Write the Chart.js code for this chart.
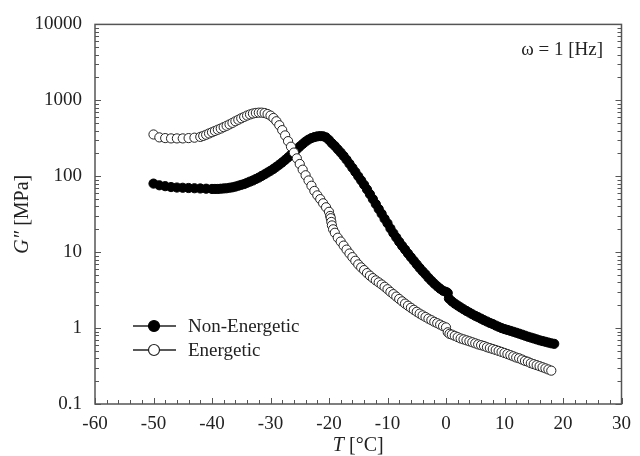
<!DOCTYPE html>
<html>
<head>
<meta charset="utf-8">
<script src="https://cdn.jsdelivr.net/npm/chart.js@4.4.1/dist/chart.umd.min.js"></script>
<style>
html,body{margin:0;padding:0;background:#fff;}
#wrap{width:640px;height:456px;}
</style>
</head>
<body>
<div id="wrap"><canvas id="c" width="640" height="456"></canvas></div>
<script>
// ---- data ----
const seriesNames = ["Non-Energetic", "Energetic"];
const xTickLabels = [-60, -50, -40, -30, -20, -10, 0, 10, 20, 30];
const yTickLabels = [0.1, 1, 10, 100, 1000, 10000];

const T_non = [-50,-49,-48,-47,-46,-45,-44,-43,-42,-41,-40,-39.5,-39,-38.5,-38,-37.5,-37,-36.5,-36,-35.5,-35,-34.5,-34,-33.5,-33,-32.5,-32,-31.5,-31,-30.5,-30,-29.5,-29,-28.5,-28,-27.5,-27,-26.5,-26,-25.5,-25,-24.5,-24,-23.5,-23,-22.5,-22,-21.5,-21,-20.5,-20,-19.5,-19,-18.5,-18,-17.5,-17,-16.5,-16,-15.5,-15,-14.5,-14,-13.5,-13,-12.5,-12,-11.5,-11,-10.5,-10,-9.5,-9,-8.5,-8,-7.5,-7,-6.5,-6,-5.5,-5,-4.5,-4,-3.5,-3,-2.5,-2,-1.5,-1,-0.5,0,0.3,0.5,1,1.5,2,2.5,3,3.5,4,4.5,5,5.5,6,6.5,7,7.5,8,8.5,9,9.5,10,10.5,11,11.5,12,12.5,13,13.5,14,14.5,15,15.5,16,16.5,17,17.5,18,18.5];
const G_non = [80,76,74,72,71,70.5,70,69.5,69,68.5,68,68,68,68.5,69,69.5,70.5,71.5,73,75,77,79,82,85,88,92,96,101,106,112,118,125,133,142,152,164,177,192,208,226,246,266,286,304,318,328,335,338,336,325,300,272,250,226,205,185,165,146,129,114,100,88,77,67,58,50,43,37,32,27.5,24,20.5,17.8,15.6,13.7,12.1,10.8,9.6,8.6,7.7,6.9,6.2,5.6,5.1,4.6,4.2,3.85,3.55,3.3,3.1,3.0,2.9,2.45,2.25,2.1,1.98,1.87,1.77,1.68,1.6,1.52,1.45,1.39,1.33,1.27,1.22,1.17,1.13,1.08,1.04,1.0,0.97,0.945,0.92,0.895,0.87,0.845,0.82,0.795,0.77,0.75,0.73,0.71,0.69,0.675,0.66,0.645,0.63,0.62];

const T_en = [-50,-49,-48,-47,-46,-45,-44,-43,-42,-41.5,-41,-40.5,-40,-39.5,-39,-38.5,-38,-37.5,-37,-36.5,-36,-35.5,-35,-34.5,-34,-33.5,-33,-32.5,-32,-31.5,-31,-30.5,-30,-29.5,-29,-28.5,-28,-27.5,-27,-26.5,-26,-25.5,-25,-24.5,-24,-23.5,-23,-22.5,-22,-21.5,-21,-20.5,-20,-19.8,-19.7,-19.6,-19.5,-19.3,-19,-18.5,-18,-17.5,-17,-16.5,-16,-15.5,-15,-14.5,-14,-13.5,-13,-12.5,-12,-11.5,-11,-10.5,-10,-9.5,-9,-8.5,-8,-7.5,-7,-6.5,-6,-5.5,-5,-4.5,-4,-3.5,-3,-2.5,-2,-1.5,-1,-0.5,0,0.3,0.6,1,1.5,2,2.5,3,3.5,4,4.5,5,5.5,6,6.5,7,7.5,8,8.5,9,9.5,10,10.5,11,11.5,12,12.5,13,13.5,14,14.5,15,15.5,16,16.5,17,17.5,18];
const G_en = [355,325,318,315,315,315,318,322,330,340,352,366,380,395,410,425,443,462,482,505,530,555,580,605,630,652,670,682,688,688,680,660,630,585,530,470,405,345,290,245,205,172,145,122,103,88,75,64,56,50,44,39,34,30,28,25,22.5,20,18,15.5,13.8,12.2,10.8,9.6,8.6,7.7,6.9,6.3,5.8,5.3,4.9,4.55,4.25,4.0,3.75,3.5,3.25,3.0,2.8,2.6,2.42,2.25,2.1,1.97,1.85,1.74,1.64,1.55,1.47,1.4,1.33,1.27,1.21,1.16,1.11,1.06,1.02,0.88,0.84,0.82,0.79,0.76,0.73,0.71,0.69,0.67,0.65,0.63,0.61,0.595,0.58,0.56,0.545,0.53,0.515,0.5,0.485,0.47,0.455,0.44,0.425,0.41,0.4,0.385,0.37,0.36,0.345,0.335,0.325,0.315,0.305,0.295,0.285,0.275];

// ---- chart ----
const FONT = "'Liberation Serif', 'Times New Roman', serif";
const TXT = '#222';
const AX = '#555';

function pts(xs, ys){ return xs.map((x,i)=>({x:x, y:ys[i]})); }

const decor = {
  id: 'decor',
  afterDatasetsDraw(chart){
    const ctx = chart.ctx;
    const a = chart.chartArea;
    const xs = chart.scales.x, ys = chart.scales.y;
    ctx.save();
    // frame
    ctx.strokeStyle = AX; ctx.lineWidth = 1.5;
    ctx.strokeRect(a.left, a.top, a.right - a.left, a.bottom - a.top);
    // x ticks (inward, bottom)
    ctx.lineWidth = 1;
    ctx.beginPath();
    for (let v = -60; v <= 30; v += 2) {
      const px = Math.round(xs.getPixelForValue(v)) + 0.5;
      const len = (v % 10 === 0) ? 6 : 4;
      ctx.moveTo(px, a.bottom); ctx.lineTo(px, a.bottom - len);
    }
    // y ticks (inward, left & right)
    for (let d = -1; d <= 4; d++) {
      for (let m = 1; m <= 9; m++) {
        const v = m * Math.pow(10, d);
        if (v > 10000) break;
        const py = Math.round(ys.getPixelForValue(v)) + 0.5;
        const len = (m === 1) ? 6 : 4;
        ctx.moveTo(a.left, py); ctx.lineTo(a.left + len, py);
        ctx.moveTo(a.right, py); ctx.lineTo(a.right - len, py);
      }
    }
    ctx.stroke();

    // legend
    const ds = chart.data.datasets;
    const rows = [{y: 326, d: ds[0]}, {y: 350, d: ds[1]}];
    rows.forEach(r => {
      ctx.strokeStyle = '#222'; ctx.lineWidth = 1.5;
      ctx.beginPath(); ctx.moveTo(133, r.y); ctx.lineTo(176, r.y); ctx.stroke();
      ctx.beginPath(); ctx.arc(154, r.y, 5.5, 0, Math.PI*2);
      ctx.fillStyle = r.d.backgroundColor; ctx.fill();
      ctx.lineWidth = 1.2; ctx.strokeStyle = r.d.borderColor; ctx.stroke();
      ctx.fillStyle = TXT; ctx.font = '19px ' + FONT;
      ctx.textAlign = 'left'; ctx.textBaseline = 'middle';
      ctx.fillText(r.d.label, 188, r.y + 1);
    });

    // annotation
    ctx.fillStyle = TXT; ctx.font = '19px ' + FONT;
    ctx.textAlign = 'right'; ctx.textBaseline = 'middle';
    ctx.fillText('\u03c9 = 1 [Hz]', 603, 50);

    // x title: italic T + [°C]
    ctx.textBaseline = 'alphabetic'; ctx.textAlign = 'left';
    const s1 = 'T', s2 = ' [\u00b0C]';
    ctx.font = 'italic 20px ' + FONT; const w1 = ctx.measureText(s1).width;
    ctx.font = '20px ' + FONT; const w2 = ctx.measureText(s2).width;
    let x0 = (a.left + a.right) / 2 - (w1 + w2) / 2;
    ctx.font = 'italic 20px ' + FONT; ctx.fillText(s1, x0, 451);
    ctx.font = '20px ' + FONT; ctx.fillText(s2, x0 + w1, 451);

    // y title: italic G'' + [MPa], rotated
    ctx.save();
    ctx.translate(28, (a.top + a.bottom) / 2);
    ctx.rotate(-Math.PI / 2);
    const t1 = 'G\u2033', t2 = ' [MPa]';
    ctx.font = 'italic 20px ' + FONT; const v1 = ctx.measureText(t1).width;
    ctx.font = '20px ' + FONT; const v2 = ctx.measureText(t2).width;
    const y0 = -(v1 + v2) / 2;
    ctx.font = 'italic 20px ' + FONT; ctx.fillText(t1, y0, 0);
    ctx.font = '20px ' + FONT; ctx.fillText(t2, y0 + v1, 0);
    ctx.restore();
    ctx.restore();
  }
};

new Chart(document.getElementById('c'), {
  type: 'scatter',
  data: {
    datasets: [
      { label: seriesNames[0], data: pts(T_non, G_non), order: 2,
        backgroundColor: '#000', borderColor: '#000',
        pointRadius: 4.6, pointBorderWidth: 1, showLine: false },
      { label: seriesNames[1], data: pts(T_en, G_en), order: 1,
        backgroundColor: '#fff', borderColor: '#222',
        pointRadius: 4.6, pointBorderWidth: 1, showLine: false }
    ]
  },
  options: {
    responsive: false,
    animation: false,
    events: [],
    layout: { padding: { top: 20, right: 10, left: 0, bottom: 0 } },
    plugins: { legend: { display: false }, tooltip: { enabled: false } },
    scales: {
      x: {
        type: 'linear', min: -60, max: 30,
        grid: { display: false, drawTicks: false }, border: { display: false },
        afterBuildTicks(s){ s.ticks = xTickLabels.map(v => ({value: v})); },
        afterFit(s){ s.height = 52; },
        ticks: { color: TXT, font: { family: FONT, size: 19 }, padding: 9, maxRotation: 0,
                 callback: v => String(v) }
      },
      y: {
        type: 'logarithmic', min: 0.1, max: 10000,
        grid: { display: false, drawTicks: false }, border: { display: false },
        afterBuildTicks(s){ s.ticks = yTickLabels.map(v => ({value: v})); },
        afterFit(s){ s.width = 95; },
        ticks: { color: TXT, font: { family: FONT, size: 19 }, padding: 13,
                 callback: v => String(v) }
      }
    }
  },
  plugins: [decor]
});
</script>
</body>
</html>
